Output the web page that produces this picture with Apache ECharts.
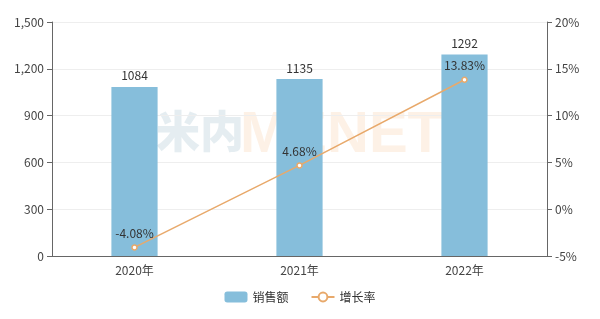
<!DOCTYPE html>
<html><head><meta charset="utf-8">
<script src="https://cdn.jsdelivr.net/npm/echarts@6/dist/echarts.min.js"></script>
<style>html,body{margin:0;padding:0;background:#fff}#c{width:600px;height:319px}</style>
</head><body><div id="c"></div>
<script>
const categories = ['2020年', '2021年', '2022年'];
const sales = [1084, 1135, 1292];
const growth = [-4.08, 4.68, 13.83];
const salesName = '销售额';
const growthName = '增长率';

const font = '"Microsoft YaHei","Noto Sans CJK SC",sans-serif';
const chart = echarts.init(document.getElementById('c'));
chart.setOption({
  animation: false,
  textStyle: { fontFamily: font },
  graphic: [
    { type: 'text', left: 156, top: 109, z: 0, style: { text: '米内', fontSize: 44, fontWeight: 900, fill: 'rgba(170,195,210,0.30)', fontFamily: font } },
    { type: 'text', left: 240, top: 107, z: 0, style: { text: 'MENET', fontSize: 58, fontWeight: 'bold', fill: 'rgba(245,190,140,0.22)', fontFamily: 'Arial,Liberation Sans,sans-serif' } }
  ],
  grid: { left: 52, right: 53, top: 22, bottom: 63 },
  legend: {
    bottom: 11, left: 'center', itemWidth: 23, itemHeight: 11, itemGap: 22,
    textStyle: { color: '#333', fontSize: 12 },
    data: [salesName, growthName]
  },
  xAxis: {
    type: 'category', data: categories,
    axisLine: { lineStyle: { color: '#666' } },
    axisTick: { lineStyle: { color: '#666' } },
    axisLabel: { color: '#444', fontSize: 12 }
  },
  yAxis: [
    {
      type: 'value', min: 0, max: 1500, interval: 300,
      axisLine: { show: true, lineStyle: { color: '#666' } },
      axisTick: { show: true, lineStyle: { color: '#666' } },
      axisLabel: { color: '#444', fontSize: 12 },
      splitLine: { lineStyle: { color: '#eee' } }
    },
    {
      type: 'value', min: -5, max: 20, interval: 5,
      axisLine: { show: true, lineStyle: { color: '#666' } },
      axisTick: { show: true, lineStyle: { color: '#666' } },
      axisLabel: { color: '#444', fontSize: 12, formatter: '{value}%' },
      splitLine: { show: false }
    }
  ],
  series: [
    {
      name: salesName, type: 'bar', data: sales, barWidth: '28%', z: 2,
      itemStyle: { color: '#86bedb' },
      label: { show: true, position: 'top', color: '#333', fontSize: 12 }
    },
    {
      name: growthName, type: 'line', yAxisIndex: 1, data: growth, z: 3,
      symbol: 'circle', symbolSize: 5,
      lineStyle: { color: '#e8a96b', width: 1.5 },
      itemStyle: { color: '#fff', borderColor: '#e8a96b', borderWidth: 1.5 },
      label: { show: true, position: 'top', color: '#333', fontSize: 12, formatter: p => p.value.toFixed(2) + '%' }
    }
  ]
});
</script></body></html>
